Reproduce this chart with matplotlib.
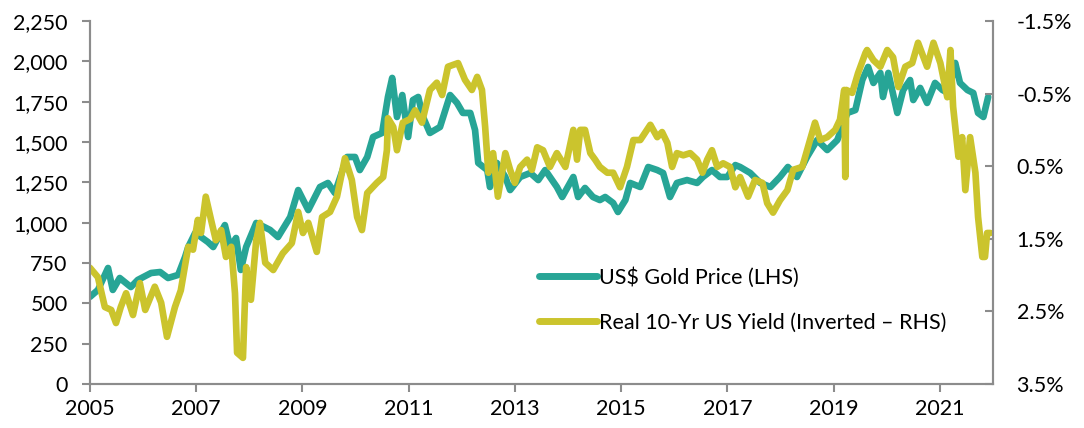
import matplotlib
matplotlib.use("Agg")
import matplotlib.pyplot as plt
from matplotlib.ticker import FuncFormatter

plt.rcParams['font.family'] = ['Lato', 'DejaVu Sans']

# US$ gold price (LHS)
gold_dates = [2005.00, 2005.15, 2005.34, 2005.43, 2005.56, 2005.77, 2005.90, 2006.15,
              2006.32, 2006.47, 2006.66, 2006.79, 2006.85, 2006.98, 2007.09, 2007.22,
              2007.32, 2007.54, 2007.64, 2007.75, 2007.84, 2007.94, 2008.13, 2008.39,
              2008.54, 2008.77, 2008.92, 2009.11, 2009.33, 2009.48, 2009.61, 2009.84,
              2009.99, 2010.08, 2010.22, 2010.33, 2010.50, 2010.61, 2010.69, 2010.78,
              2010.88, 2010.99, 2011.08, 2011.18, 2011.27, 2011.40, 2011.59, 2011.78,
              2011.91, 2012.02, 2012.16, 2012.25, 2012.31, 2012.48, 2012.53, 2012.66,
              2012.82, 2012.91, 2013.10, 2013.29, 2013.44, 2013.57, 2013.79, 2013.89,
              2014.10, 2014.19, 2014.32, 2014.47, 2014.60, 2014.70, 2014.85, 2014.94,
              2015.08, 2015.17, 2015.36, 2015.51, 2015.68, 2015.79, 2015.92, 2016.05,
              2016.24, 2016.43, 2016.54, 2016.71, 2016.86, 2017.00, 2017.15, 2017.24,
              2017.43, 2017.62, 2017.81, 2017.99, 2018.14, 2018.31, 2018.50, 2018.69,
              2018.88, 2019.07, 2019.26, 2019.41, 2019.54, 2019.65, 2019.75, 2019.88,
              2019.93, 2020.03, 2020.20, 2020.31, 2020.44, 2020.50, 2020.63, 2020.76,
              2020.91, 2021.05, 2021.16, 2021.29, 2021.38, 2021.52, 2021.63, 2021.72,
              2021.82, 2021.91]
gold_price = [540, 583, 719, 583, 657, 601, 645, 688,
              694, 657, 676, 787, 849, 936, 911, 880,
              849, 985, 849, 905, 707, 849, 998, 955,
              911, 1035, 1202, 1078, 1221, 1246, 1184, 1407,
              1407, 1326, 1407, 1531, 1556, 1779, 1897, 1655,
              1791, 1531, 1760, 1779, 1655, 1556, 1593, 1791,
              1742, 1680, 1680, 1574, 1370, 1326, 1221, 1370,
              1283, 1202, 1283, 1308, 1264, 1326, 1221, 1159,
              1283, 1159, 1215, 1159, 1140, 1159, 1122, 1066,
              1140, 1246, 1221, 1345, 1326, 1308, 1159, 1246,
              1264, 1246, 1283, 1326, 1283, 1283, 1357, 1345,
              1308, 1246, 1221, 1283, 1345, 1283, 1407, 1512,
              1450, 1512, 1680, 1698, 1884, 1965, 1866, 1928,
              1779, 1928, 1680, 1822, 1884, 1760, 1835, 1742,
              1866, 1822, 1804, 1990, 1866, 1822, 1804, 1680,
              1655, 1779]

# Real 10-yr US yield in % (RHS, inverted axis)
yield_dates = [2005.00, 2005.15, 2005.28, 2005.40, 2005.49, 2005.58, 2005.68, 2005.81,
               2005.94, 2006.04, 2006.22, 2006.34, 2006.45, 2006.60, 2006.71, 2006.85,
               2006.94, 2007.03, 2007.09, 2007.18, 2007.28, 2007.37, 2007.47, 2007.56,
               2007.66, 2007.73, 2007.77, 2007.88, 2007.94, 2008.03, 2008.13, 2008.20,
               2008.30, 2008.45, 2008.63, 2008.80, 2008.92, 2009.01, 2009.11, 2009.27,
               2009.37, 2009.52, 2009.65, 2009.80, 2009.93, 2010.03, 2010.12, 2010.22,
               2010.40, 2010.52, 2010.59, 2010.61, 2010.71, 2010.78, 2010.89, 2011.03,
               2011.12, 2011.25, 2011.40, 2011.53, 2011.63, 2011.74, 2011.93, 2012.06,
               2012.19, 2012.29, 2012.38, 2012.44, 2012.50, 2012.59, 2012.68, 2012.82,
               2012.91, 2013.00, 2013.10, 2013.23, 2013.32, 2013.42, 2013.53, 2013.66,
               2013.79, 2013.95, 2014.10, 2014.17, 2014.23, 2014.32, 2014.42, 2014.51,
               2014.60, 2014.74, 2014.85, 2014.98, 2015.11, 2015.23, 2015.36, 2015.45,
               2015.55, 2015.68, 2015.77, 2015.87, 2015.96, 2016.05, 2016.17, 2016.30,
               2016.43, 2016.53, 2016.62, 2016.71, 2016.81, 2016.92, 2017.05, 2017.15,
               2017.24, 2017.39, 2017.52, 2017.66, 2017.75, 2017.86, 2017.99, 2018.13,
               2018.24, 2018.41, 2018.50, 2018.65, 2018.75, 2018.88, 2019.03, 2019.12,
               2019.20, 2019.22, 2019.24, 2019.35, 2019.46, 2019.60, 2019.63, 2019.75,
               2019.88, 2020.01, 2020.12, 2020.22, 2020.35, 2020.48, 2020.59, 2020.76,
               2020.88, 2021.01, 2021.14, 2021.20, 2021.25, 2021.35, 2021.42, 2021.48,
               2021.57, 2021.67, 2021.72, 2021.80, 2021.85, 2021.89, 2021.95]
real_yield = [1.90, 2.03, 2.44, 2.48, 2.66, 2.44, 2.25, 2.55,
              2.11, 2.48, 2.16, 2.38, 2.85, 2.44, 2.21, 1.61,
              1.65, 1.24, 1.42, 0.92, 1.24, 1.52, 1.38, 1.75,
              1.61, 2.25, 3.07, 3.14, 1.89, 2.34, 1.52, 1.28,
              1.83, 1.93, 1.70, 1.56, 1.13, 1.42, 1.28, 1.68,
              1.20, 1.13, 0.92, 0.39, 0.69, 1.20, 1.38, 0.87,
              0.73, 0.65, 0.28, -0.16, -0.04, 0.28, -0.10, -0.15,
              -0.27, -0.10, -0.55, -0.65, -0.48, -0.87, -0.92, -0.69,
              -0.55, -0.73, -0.55, -0.04, 0.59, 0.32, 0.92, 0.32,
              0.55, 0.73, 0.51, 0.41, 0.55, 0.24, 0.28, 0.51,
              0.32, 0.51, 0.00, 0.41, 0.00, 0.00, 0.32, 0.41,
              0.51, 0.59, 0.59, 0.79, 0.51, 0.14, 0.14, 0.04,
              -0.07, 0.10, 0.03, 0.18, 0.51, 0.32, 0.35, 0.32,
              0.41, 0.59, 0.41, 0.28, 0.51, 0.46, 0.51, 0.79,
              0.65, 0.92, 0.69, 0.73, 1.01, 1.14, 0.97, 0.83,
              0.55, 0.51, 0.28, -0.10, 0.14, 0.10, 0.00, -0.14,
              -0.55, 0.65, -0.55, -0.51, -0.78, -1.06, -1.10, -0.96,
              -0.87, -1.10, -1.00, -0.59, -0.87, -0.92, -1.20, -0.87,
              -1.20, -0.92, -0.45, -1.10, -0.32, 0.37, 0.10, 0.83,
              0.10, 0.59, 1.20, 1.75, 1.75, 1.42, 1.42]

year_ticks = [2005, 2007, 2009, 2011, 2013, 2015, 2017, 2019, 2021]
gold_ticks = [0, 250, 500, 750, 1000, 1250, 1500, 1750, 2000, 2250]
yield_ticks = [-1.5, -0.5, 0.5, 1.5, 2.5, 3.5]

TEAL = '#27a596'
YELLOW = '#cbc42d'
GREY = '#8c8c8c'
FS = 15.5

fig = plt.figure(figsize=(10.84, 4.28), dpi=100)
ax = fig.add_axes([0.083, 0.1028, 0.833, 0.8482])
ax2 = ax.twinx()

l1, = ax.plot(gold_dates, gold_price, color=TEAL, lw=4.8, solid_capstyle='round',
              solid_joinstyle='round', label='US$ Gold Price (LHS)')
l2, = ax2.plot(yield_dates, real_yield, color=YELLOW, lw=4.8, solid_capstyle='round',
               solid_joinstyle='round', label='Real 10-Yr US Yield (Inverted \u2013 RHS)')

ax.set_xlim(2005, 2022)
ax.set_ylim(0, 2250)
ax2.set_ylim(3.5, -1.5)

ax.set_xticks(year_ticks)
ax.set_yticks(gold_ticks)
ax.yaxis.set_major_formatter(FuncFormatter(lambda v, p: f'{v:,.0f}'))
ax2.set_yticks(yield_ticks)
ax2.yaxis.set_major_formatter(FuncFormatter(lambda v, p: f'{v:.1f}%'))

for a in (ax, ax2):
    a.spines['top'].set_visible(False)
    for s in ('left', 'right', 'bottom'):
        a.spines[s].set_color(GREY)
        a.spines[s].set_linewidth(1.5)
ax.tick_params(axis='x', direction='out', length=6, width=1.5, color=GREY,
               labelsize=FS, pad=5)
ax.tick_params(axis='y', direction='out', length=6, width=1.5, color=GREY,
               labelsize=FS, pad=10)
ax2.tick_params(axis='y', direction='in', length=6, width=1.5, color=GREY,
                labelsize=FS, pad=17)

leg = ax2.legend(handles=[l1, l2], loc='upper left', bbox_to_anchor=(0.476, 0.375),
                 frameon=False, fontsize=FS, handlelength=2.7, handletextpad=0.1,
                 labelspacing=1.15)
for h in leg.legend_handles:
    h.set_linewidth(5)

fig.savefig('out.png', dpi=100)
